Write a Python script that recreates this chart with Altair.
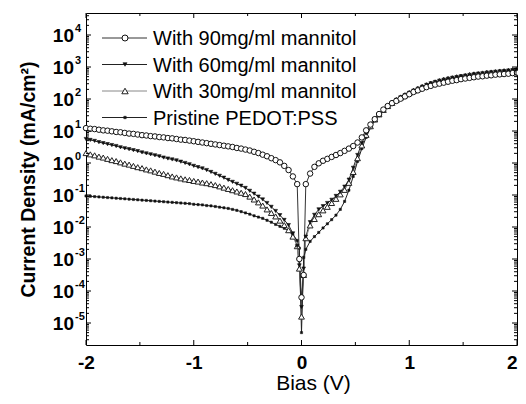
import altair as alt
import pandas as pd
import numpy as np

# Bias grid (V)
bias_v = [-2.00, -1.96, -1.92, -1.88, -1.84, -1.80, -1.76, -1.72, -1.68, -1.64,
          -1.60, -1.56, -1.52, -1.48, -1.44, -1.40, -1.36, -1.32, -1.28, -1.24,
          -1.20, -1.16, -1.12, -1.08, -1.04, -1.00, -0.96, -0.92, -0.88, -0.84,
          -0.80, -0.76, -0.72, -0.68, -0.64, -0.60, -0.56, -0.52, -0.48, -0.44,
          -0.40, -0.36, -0.32, -0.28, -0.24, -0.20, -0.16, -0.12, -0.08, -0.04,
          -0.02, 0.00, 0.02,
          0.04, 0.08, 0.12, 0.16, 0.20, 0.24, 0.28, 0.32, 0.36, 0.40,
          0.44, 0.48, 0.52, 0.56, 0.60, 0.64, 0.68, 0.72, 0.76, 0.80,
          0.84, 0.88, 0.92, 0.96, 1.00, 1.04, 1.08, 1.12, 1.16, 1.20,
          1.24, 1.28, 1.32, 1.36, 1.40, 1.44, 1.48, 1.52, 1.56, 1.60,
          1.64, 1.68, 1.72, 1.76, 1.80, 1.84, 1.88, 1.92, 1.96, 2.00]

# Current density, read as decades (log10 of mA/cm^2)
log_j_90 = [1.09, 1.07, 1.06, 1.04, 1.02, 1.01, 0.99, 0.97, 0.96, 0.94,
            0.92, 0.91, 0.89, 0.87, 0.86, 0.84, 0.83, 0.81, 0.80, 0.78,
            0.77, 0.75, 0.73, 0.72, 0.70, 0.68, 0.66, 0.64, 0.62, 0.60,
            0.58, 0.56, 0.54, 0.52, 0.50, 0.47, 0.45, 0.42, 0.39, 0.35,
            0.31, 0.26, 0.21, 0.15, 0.09, 0.02, -0.09, -0.22, -0.42, -0.66,
            -3.0, -4.2, -3.5,
            -0.66, -0.33, -0.12, -0.01, 0.07, 0.13, 0.19, 0.25, 0.31, 0.38,
            0.45, 0.53, 0.64, 0.80, 1.02, 1.20, 1.37, 1.53, 1.67, 1.78,
            1.87, 1.94, 2.01, 2.08, 2.15, 2.22, 2.27, 2.32, 2.37, 2.41,
            2.45, 2.48, 2.51, 2.54, 2.57, 2.59, 2.62, 2.64, 2.66, 2.68,
            2.70, 2.71, 2.73, 2.74, 2.76, 2.77, 2.78, 2.79, 2.81, 2.82]

log_j_60 = [0.75, 0.72, 0.69, 0.65, 0.62, 0.59, 0.56, 0.53, 0.49, 0.46,
            0.43, 0.40, 0.37, 0.33, 0.30, 0.27, 0.24, 0.21, 0.17, 0.14,
            0.11, 0.08, 0.04, 0.00, -0.04, -0.09, -0.13, -0.17, -0.22, -0.28,
            -0.34, -0.40, -0.46, -0.53, -0.59, -0.65, -0.71, -0.78, -0.87, -0.96,
            -1.05, -1.14, -1.25, -1.37, -1.50, -1.63, -1.78, -1.94, -2.20, -2.60,
            -3.2, -4.5, -3.3,
            -2.30, -1.85, -1.62, -1.45, -1.35, -1.25, -1.15, -1.03, -0.90, -0.74,
            -0.52, -0.15, 0.25, 0.62, 0.92, 1.17, 1.37, 1.53, 1.67, 1.78,
            1.88, 1.97, 2.05, 2.12, 2.19, 2.26, 2.32, 2.38, 2.44, 2.49,
            2.53, 2.57, 2.60, 2.63, 2.66, 2.68, 2.71, 2.73, 2.75, 2.77,
            2.79, 2.80, 2.82, 2.83, 2.85, 2.86, 2.87, 2.89, 2.90, 2.92]

log_j_30 = [0.31, 0.27, 0.24, 0.20, 0.17, 0.13, 0.09, 0.06, 0.02, -0.02,
            -0.05, -0.09, -0.13, -0.16, -0.20, -0.23, -0.27, -0.31, -0.34, -0.38,
            -0.42, -0.45, -0.48, -0.51, -0.53, -0.56, -0.58, -0.61, -0.63, -0.66,
            -0.69, -0.73, -0.77, -0.81, -0.85, -0.89, -0.93, -0.97, -1.05, -1.14,
            -1.23, -1.33, -1.45, -1.56, -1.67, -1.80, -1.94, -2.10, -2.30, -2.60,
            -3.3, -4.8, -3.5,
            -2.35, -1.95, -1.75, -1.60, -1.48, -1.37, -1.25, -1.12, -0.98, -0.84,
            -0.62, -0.28, 0.15, 0.55, 0.88, 1.15, 1.36, 1.52, 1.66, 1.78,
            1.88, 1.97, 2.05, 2.12, 2.19, 2.26, 2.32, 2.38, 2.43, 2.48,
            2.52, 2.56, 2.60, 2.63, 2.65, 2.68, 2.70, 2.72, 2.75, 2.77,
            2.78, 2.80, 2.82, 2.83, 2.84, 2.86, 2.87, 2.88, 2.90, 2.91]

log_j_pristine = [-1.03, -1.04, -1.05, -1.06, -1.07, -1.08, -1.09, -1.10, -1.11, -1.12,
                  -1.13, -1.14, -1.15, -1.16, -1.17, -1.18, -1.19, -1.20, -1.21, -1.22,
                  -1.23, -1.24, -1.25, -1.26, -1.27, -1.29, -1.30, -1.31, -1.33, -1.34,
                  -1.36, -1.38, -1.40, -1.42, -1.45, -1.48, -1.52, -1.56, -1.60, -1.65,
                  -1.69, -1.73, -1.79, -1.85, -1.92, -1.98, -2.04, -2.12, -2.24, -2.42,
                  -2.66, -5.3, -2.95,
                  -2.70, -2.45, -2.30, -2.17, -2.03, -1.90, -1.77, -1.63, -1.45, -1.20,
                  -0.85, -0.42, 0.05, 0.45, 0.80, 1.10, 1.33, 1.50, 1.65, 1.77,
                  1.87, 1.96, 2.04, 2.11, 2.18, 2.25, 2.31, 2.37, 2.42, 2.47,
                  2.51, 2.55, 2.58, 2.61, 2.64, 2.67, 2.69, 2.71, 2.73, 2.75,
                  2.77, 2.79, 2.80, 2.82, 2.83, 2.84, 2.86, 2.87, 2.88, 2.90]

series_names = ["With 90mg/ml mannitol", "With 60mg/ml mannitol",
                "With 30mg/ml mannitol", "Pristine PEDOT:PSS"]
series_logs = [log_j_90, log_j_60, log_j_30, log_j_pristine]

x_ticks_major = [-2, -1, 0, 1, 2]
x_ticks_minor = [-1.5, -0.5, 0.5, 1.5]
y_tick_exponents = [-5, -4, -3, -2, -1, 0, 1, 2, 3, 4]

# ---------------- styling ----------------
W, H = 431, 332
FONT = "Liberation Sans"
styles = [
    dict(line="#333333", shape="circle", fill="white", stroke="#111111", size=30, sw=1.0),
    dict(line="#222222", shape="triangle-down", fill="#111111", stroke="#111111", size=14, sw=0.6),
    dict(line="#888888", shape="triangle-up", fill="white", stroke="#222222", size=34, sw=1.0),
    dict(line="#222222", shape="square", fill="#111111", stroke="#111111", size=5, sw=0.5),
]

xs = alt.Scale(domain=[-2, 2], nice=False, zero=False)
ys = alt.Scale(type="log", domain=[10 ** -5.6875, 10 ** 4.6875], nice=False)

x_axis = alt.Axis(values=x_ticks_major, ticks=False, domain=False, grid=False,
                  labelExpr="'' + datum.value", labelFont=FONT, labelFontWeight="bold",
                  labelFontSize=19, labelColor="black", labelPadding=8, labelFlush=False,
                  labelAlign={"condition": {"test": "datum.value == 2", "value": "right"},
                              "value": "center"},
                  title="Bias (V)", titleFont=FONT, titleFontWeight="normal", titleFontSize=21,
                  titleColor="black", titleX=227, titleY=38, titleBaseline="middle",
                  titleAlign="center")
y_axis = alt.Axis(labels=False, ticks=False, domain=False, grid=False,
                  title="Current Density (mA/cm²)", titleFont=FONT, titleFontWeight="bold",
                  titleFontSize=19.5, titleColor="black", titleAngle=270, titleX=-58,
                  titleY=166, titleAlign="center", titleBaseline="middle")

X = lambda: alt.X("V:Q", scale=xs, axis=x_axis)
Y = lambda: alt.Y("J:Q", scale=ys, axis=y_axis)

layers = []

# data lines
frames = []
for name, logs in zip(series_names, series_logs):
    frames.append(pd.DataFrame({"V": bias_v, "J": 10.0 ** np.array(logs), "series": name}))

for df, st in zip(frames, styles):
    layers.append(alt.Chart(df).mark_line(color=st["line"], strokeWidth=1).encode(x=X(), y=Y()))

# markers (pristine first so the bigger open markers sit above)
for idx in [3, 2, 1, 0]:
    st = styles[idx]
    layers.append(
        alt.Chart(frames[idx]).mark_point(shape=st["shape"], filled=True, fill=st["fill"],
                                          stroke=st["stroke"], strokeWidth=st["sw"],
                                          size=st["size"], opacity=1)
        .encode(x=X(), y=Y())
    )

# ticks (inward, mirrored)
xt_major = pd.DataFrame({"V": x_ticks_major})
xt_minor = pd.DataFrame({"V": x_ticks_minor})
for d, ln in [(xt_major, 5), (xt_minor, 3)]:
    layers.append(alt.Chart(d).mark_rule(color="black", strokeWidth=1).encode(
        x=X(), y=alt.value(H), y2=alt.value(H - ln)))
    layers.append(alt.Chart(d).mark_rule(color="black", strokeWidth=1).encode(
        x=X(), y=alt.value(0), y2=alt.value(ln)))

yt_major = pd.DataFrame({"J": [10.0 ** e for e in y_tick_exponents]})
minor_vals = [m * 10.0 ** e for e in range(-6, 5) for m in range(2, 10)]
minor_vals = [v for v in minor_vals if 10 ** -5.6875 <= v <= 10 ** 4.6875]
yt_minor = pd.DataFrame({"J": minor_vals})
for d, ln in [(yt_major, 5), (yt_minor, 3)]:
    layers.append(alt.Chart(d).mark_rule(color="black", strokeWidth=1).encode(
        y=Y(), x=alt.value(0), x2=alt.value(ln)))
    layers.append(alt.Chart(d).mark_rule(color="black", strokeWidth=1).encode(
        y=Y(), x=alt.value(W), x2=alt.value(W - ln)))

# y tick labels: "10" with superscript exponent
ylab = pd.DataFrame({"J": [10.0 ** e for e in y_tick_exponents],
                     "base": ["10"] * len(y_tick_exponents),
                     "exp": [str(e) for e in y_tick_exponents]})
layers.append(alt.Chart(ylab).mark_text(align="right", baseline="middle", font=FONT,
                                        fontWeight="bold", fontSize=19, color="black", dy=1)
              .encode(y=Y(), x=alt.value(-12), text="base:N"))
layers.append(alt.Chart(ylab).mark_text(align="left", baseline="middle", font=FONT,
                                        fontWeight="bold", fontSize=11, color="black", dy=-6)
              .encode(y=Y(), x=alt.value(-11), text="exp:N"))

# legend (inside, upper left)
for i, (name, st) in enumerate(zip(series_names, styles)):
    ly = 25 + 26.5 * i
    dleg = pd.DataFrame({"label": [name]})
    layers.append(alt.Chart(dleg).mark_rule(color=st["line"], strokeWidth=1).encode(
        x=alt.value(16), x2=alt.value(61), y=alt.value(ly)))
    layers.append(alt.Chart(dleg).mark_point(shape=st["shape"], filled=True, fill=st["fill"],
                                             stroke=st["stroke"], strokeWidth=st["sw"],
                                             size=st["size"] * 1.2, opacity=1).encode(
        x=alt.value(39), y=alt.value(ly)))
    layers.append(alt.Chart(dleg).mark_text(align="left", baseline="alphabetic", font=FONT,
                                            fontSize=20, color="black").encode(
        x=alt.value(67), y=alt.value(ly + 7), text="label:N"))

chart = alt.layer(*layers).properties(
    width=W, height=H,
    autosize=alt.AutoSizeParams(type="none"),
    padding={"left": 78, "top": 5, "right": 1, "bottom": 51},
    background="white",
).configure_view(stroke="black", strokeWidth=1)

chart.save("out.html", embed_options={"renderer": "svg", "actions": False})
